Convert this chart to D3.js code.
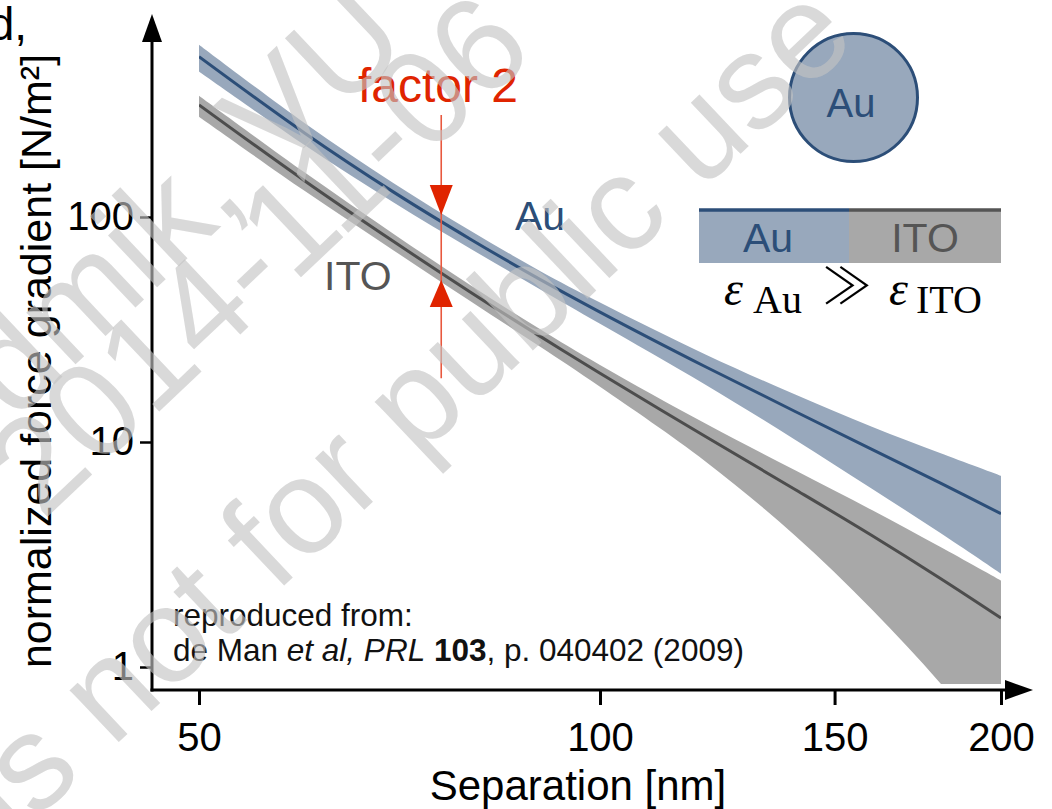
<!DOCTYPE html>
<html>
<head>
<meta charset="utf-8">
<script src="https://cdn.jsdelivr.net/npm/d3@7"></script>
<style>
  html, body { margin: 0; padding: 0; background: #fff; }
  svg { display: block; font-family: "Liberation Sans", Arial, sans-serif; }
</style>
</head>
<body>
<svg id="chart" width="1052" height="809"></svg>
<script>
// ---- data ----
const separation = [50, 60, 70, 80, 90, 100, 120, 140, 160, 180, 200];   // nm
const auMid  = [516, 236.4, 129, 79.5, 53.1, 37.8, 21.6, 13.7, 9.28, 6.58, 4.8];
const auHi   = [583, 262, 141.4, 86.6, 57.9, 41.7, 24.5, 16.3, 11.7, 8.94, 7.08];
const auLo   = [443, 208.8, 116, 72.1, 48.0, 33.5, 17.97, 10.27, 6.2, 3.95, 2.60];
const itoMid = [315, 145, 77.8, 46.2, 29.7, 20.2, 10.57, 6.17, 3.84, 2.48, 1.65];
const itoHi  = [346, 157.9, 84.1, 49.6, 31.96, 22.0, 12.08, 7.5, 4.98, 3.42, 2.42];
const itoLo  = [278.8, 130.7, 71.0, 42.1, 26.7, 17.6, 8.2, 3.85, 1.80, 0.85, 0.40];
const xTicks = [50, 100, 150, 200];
const yTicks = [1, 10, 100];
const factorAt = 76;          // nm, position of the "factor 2" marker
const factorAu = 102;         // arrow tip on Au curve
const factorITO = 52.5;       // arrow tip on ITO curve
const factorTop = 284, factorBottom = 19.2; // red line extent (values)
const watermark = ["dmik, VU", "2014-11-06", "is not for public use"];

// ---- layout ----
const svg = d3.select("#chart");
const x = d3.scaleLog().domain([50, 200]).range([199, 1001]);
const y = d3.scaleLog().domain([1, 100]).range([667, 217]);
const axX = 152, axY = 690;
const AU_FILL = "#98a8bc", AU_LINE = "#2c4e78";
const ITO_FILL = "#a8a8a8", ITO_LINE = "#4d4d4d";
const RED = "#e02400";
const SANS = "'Liberation Sans', Arial, sans-serif";
const SERIF = "'Liberation Serif', 'DejaVu Serif', serif";

svg.append("rect").attr("width", 1052).attr("height", 809).attr("fill", "#fff");

svg.append("defs").append("clipPath").attr("id", "plotclip")
  .append("rect").attr("x", x(50)).attr("y", 0)
  .attr("width", x(200) - x(50)).attr("height", axY - 6);

const rows = (hi, lo, mid) => separation.map((s, i) => ({ s, hi: hi[i], lo: lo[i], mid: mid[i] }));
const auData = rows(auHi, auLo, auMid);
const itoData = rows(itoHi, itoLo, itoMid);

const curve = d3.curveCatmullRom.alpha(0.5);
const area = d3.area().curve(curve)
  .x(d => x(d.s)).y0(d => y(d.lo)).y1(d => y(d.hi));
const line = d3.line().curve(curve)
  .x(d => x(d.s)).y(d => y(d.mid));

const plot = svg.append("g").attr("clip-path", "url(#plotclip)");
plot.append("path").datum(itoData).attr("d", area).attr("fill", ITO_FILL);
plot.append("path").datum(auData).attr("d", area).attr("fill", AU_FILL);
plot.append("path").datum(itoData).attr("d", line).attr("fill", "none")
  .attr("stroke", ITO_LINE).attr("stroke-width", 3);
plot.append("path").datum(auData).attr("d", line).attr("fill", "none")
  .attr("stroke", AU_LINE).attr("stroke-width", 3);

// factor 2 marker
const fx = x(factorAt);
svg.append("line").attr("x1", fx).attr("x2", fx)
  .attr("y1", y(factorTop)).attr("y2", y(factorBottom))
  .attr("stroke", "#e8583e").attr("stroke-width", 1.6);
const ta = y(factorAu), tb = y(factorITO);
svg.append("path").attr("d", `M${fx - 11.5},${ta - 30}L${fx + 11.5},${ta - 30}L${fx},${ta}Z`).attr("fill", RED);
svg.append("path").attr("d", `M${fx - 11.5},${tb + 27}L${fx + 11.5},${tb + 27}L${fx},${tb}Z`).attr("fill", RED);
svg.append("text").attr("x", 438).attr("y", 102).attr("text-anchor", "middle")
  .attr("font-size", 48).attr("fill", RED).text("factor 2");

svg.append("text").attr("x", 515).attr("y", 230).attr("font-size", 41)
  .attr("fill", AU_LINE).text("Au");
svg.append("text").attr("x", 324).attr("y", 290).attr("font-size", 41)
  .attr("fill", "#555").text("ITO");

// inset sketch
svg.append("circle").attr("cx", 853.5).attr("cy", 97.5).attr("r", 64)
  .attr("fill", AU_FILL).attr("stroke", AU_LINE).attr("stroke-width", 3);
svg.append("text").attr("x", 851).attr("y", 117).attr("text-anchor", "middle")
  .attr("font-size", 40).attr("fill", AU_LINE).text("Au");
svg.append("rect").attr("x", 699).attr("y", 209).attr("width", 150).attr("height", 54).attr("fill", AU_FILL);
svg.append("rect").attr("x", 849).attr("y", 209).attr("width", 152).attr("height", 54).attr("fill", ITO_FILL);
svg.append("line").attr("x1", 699).attr("x2", 849).attr("y1", 210).attr("y2", 210)
  .attr("stroke", AU_LINE).attr("stroke-width", 3.5);
svg.append("line").attr("x1", 849).attr("x2", 1001).attr("y1", 210).attr("y2", 210)
  .attr("stroke", "#555").attr("stroke-width", 3.5);
svg.append("text").attr("x", 768).attr("y", 252).attr("text-anchor", "middle")
  .attr("font-size", 41).attr("fill", AU_LINE).text("Au");
svg.append("text").attr("x", 925).attr("y", 252).attr("text-anchor", "middle")
  .attr("font-size", 41).attr("fill", "#555").text("ITO");

const eq = svg.append("g").attr("fill", "#000").style("font-family", SERIF);
eq.append("text").attr("x", 724).attr("y", 305).style("font-style", "italic")
  .attr("font-size", 48).text("ε");
eq.append("text").attr("x", 753).attr("y", 313).attr("font-size", 40).text("Au");
eq.append("text").attr("x", 822).attr("y", 304).attr("font-size", 50)
  .style("font-family", "'Noto Sans CJK JP', 'DejaVu Sans', sans-serif").style("font-weight", 300).text("≫");
eq.append("text").attr("x", 889).attr("y", 305).style("font-style", "italic")
  .attr("font-size", 48).text("ε");
eq.append("text").attr("x", 916).attr("y", 313).attr("font-size", 40).text("ITO");

// citation
svg.append("text").attr("x", 173).attr("y", 626).attr("font-size", 31.5).attr("fill", "#111")
  .text("reproduced from:");
const cite = svg.append("text").attr("x", 173).attr("y", 661).attr("font-size", 31.5).attr("fill", "#111");
cite.append("tspan").text("de Man ");
cite.append("tspan").style("font-style", "italic").text("et al, PRL");
cite.append("tspan").text(" ");
cite.append("tspan").style("font-weight", "bold").text("103");
cite.append("tspan").text(", p. 040402 (2009)");

// axes
const gy = svg.append("g").attr("transform", `translate(${axX},0)`)
  .call(d3.axisLeft(y).tickValues(yTicks).tickFormat(d3.format("d")).tickSize(12).tickPadding(6));
gy.select(".domain").remove();
gy.selectAll(".tick line").attr("stroke", "#000").attr("stroke-width", 2.5);
gy.selectAll(".tick text").attr("font-size", 40).attr("fill", "#000").attr("font-family", SANS);

const gx = svg.append("g").attr("transform", `translate(0,${axY})`)
  .call(d3.axisBottom(x).tickValues(xTicks).tickFormat(d3.format("d")).tickSize(15).tickPadding(18));
gx.select(".domain").remove();
gx.selectAll(".tick line").attr("stroke", "#000").attr("stroke-width", 3);
gx.selectAll(".tick text").attr("font-size", 40).attr("fill", "#000").attr("font-family", SANS);

svg.append("line").attr("x1", axX).attr("x2", axX).attr("y1", axY + 1.5).attr("y2", 40)
  .attr("stroke", "#000").attr("stroke-width", 3);
svg.append("path").attr("d", `M${axX},14L${axX + 10},42L${axX - 10},42Z`).attr("fill", "#000");
svg.append("line").attr("x1", axX - 1.5).attr("x2", 1012).attr("y1", axY).attr("y2", axY)
  .attr("stroke", "#000").attr("stroke-width", 3);
svg.append("path").attr("d", `M1033,${axY}L1005,${axY - 10}L1005,${axY + 10}Z`).attr("fill", "#000");

svg.append("text").attr("x", 578).attr("y", 800).attr("text-anchor", "middle")
  .attr("font-size", 42).attr("fill", "#000").text("Separation [nm]");
svg.append("text").attr("transform", "translate(51,361) rotate(-90)").attr("text-anchor", "middle")
  .attr("font-size", 43).attr("fill", "#000").text("normalized force gradient [N/m²]");

svg.append("text").attr("x", 27).attr("y", 40).attr("text-anchor", "end")
  .attr("font-size", 46).attr("fill", "#000").text("d,");

// watermark (semi-transparent overlay)
const wmPos = [[412, 46], [537, 54], [859, 42]];
const wm = svg.append("g").attr("fill", "rgb(195,195,195)").attr("fill-opacity", 0.63);
watermark.forEach((t, i) => {
  wm.append("text").attr("transform", `translate(${wmPos[i][0]},${wmPos[i][1]}) rotate(-43.4)`)
    .attr("text-anchor", "end").attr("font-size", 135).text(t);
});
</script>
</body>
</html>
